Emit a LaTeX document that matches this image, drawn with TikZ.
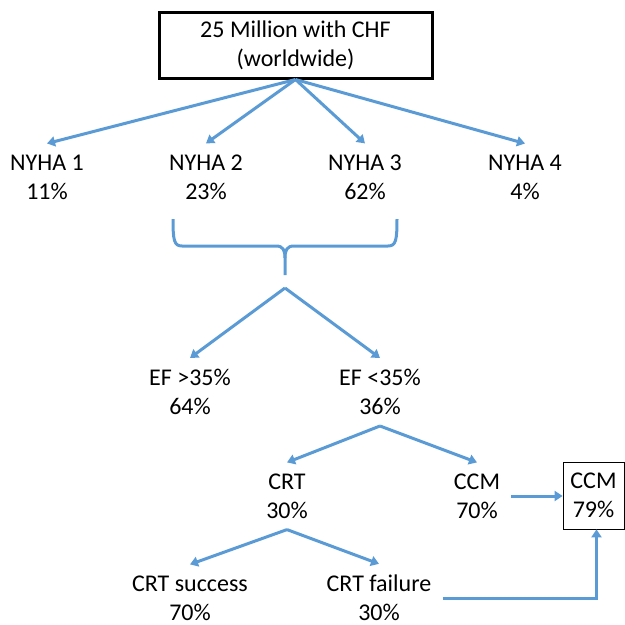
\documentclass[tikz,border=0pt]{standalone}
\usepackage{fontspec}
\setmainfont{Carlito}
\usepackage{xcolor}
\definecolor{flowblue}{RGB}{91,155,213}
\usetikzlibrary{arrows.meta, positioning, calc}

\begin{document}
\begin{tikzpicture}[
        x=1pt, y=-1pt,
        txt/.style={align=center, inner xsep=11pt, inner ysep=11pt, font=\fontsize{24}{29}\selectfont},
        box/.style={rectangle, draw=black, line width=#1, align=center, inner sep=0pt, font=\fontsize{24}{29}\selectfont},
        arrow/.style={-{Triangle[length=8pt,width=10pt]}, line width=3pt, color=flowblue},
        brace/.style={line width=3pt, color=flowblue}
    ]
        \useasboundingbox (0,0) rectangle (625,625);

        \node[box=3pt, minimum width=273pt, minimum height=66pt] (top) at (295.5, 45) {25 Million with CHF\\(worldwide)};

        \node[txt] (nyha1) at (47, 177) {NYHA 1\\11\%};
        \node[txt] (nyha2) at (206, 177) {NYHA 2\\23\%};
        \node[txt] (nyha3) at (365, 177) {NYHA 3\\62\%};
        \node[txt] (nyha4) at (525, 177) {NYHA 4\\4\%};

        \draw[arrow] (top.south) -- (nyha1.north);
        \draw[arrow] (top.south) -- (nyha2.north);
        \draw[arrow] (top.south) -- (nyha3.north);
        \draw[arrow] (top.south) -- (nyha4.north);

        % brace under NYHA 2 and NYHA 3
        \draw[brace] (173,219) .. controls (173,240) and (174,246) .. (182,246) -- (276,246)
            .. controls (283,246) and (285,250) .. (285,258) -- (285,275);
        \draw[brace] (397,219) .. controls (397,240) and (396,246) .. (388,246) -- (294,246)
            .. controls (287,246) and (285,250) .. (285,258);

        \coordinate (apex) at (285, 288);
        \node[txt] (efhigh) at (190, 392) {EF >35\%\\64\%};
        \node[txt] (eflow) at (380, 392) {EF <35\%\\36\%};

        \draw[arrow] (apex) -- (efhigh.north);
        \draw[arrow] (apex) -- (eflow.north);

        \node[txt] (crt) at (287, 496) {CRT\\30\%};
        \node[txt] (ccm) at (477, 496) {CCM\\70\%};
        \node[box=0.8pt, minimum width=61pt, minimum height=67pt] (ccmbox) at (593.5, 495.5) {CCM\\79\%};

        \draw[arrow] (eflow.south) -- (crt.north);
        \draw[arrow] (eflow.south) -- (ccm.north);
        \draw[arrow] (ccm.east) -- (ccm.east -| ccmbox.west);

        \node[txt] (crtok) at (190, 598) {CRT success\\70\%};
        \node[txt] (crtfail) at (379, 598) {CRT failure\\30\%};

        \draw[arrow] (crt.south) -- (crtok.north);
        \draw[arrow] (crt.south) -- (crtfail.north);
        \draw[arrow] (crtfail.east) -| ([xshift=3pt]ccmbox.south);
    \end{tikzpicture}
\end{document}
